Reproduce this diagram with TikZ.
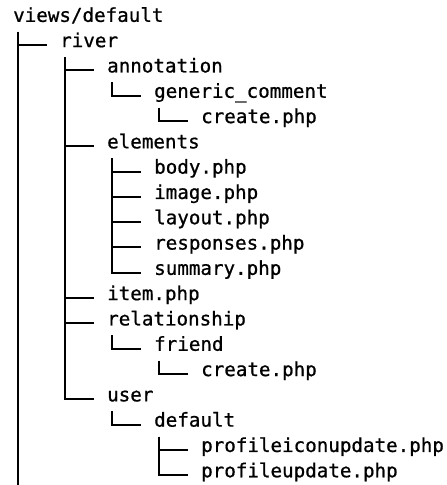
\documentclass[tikz,border=0pt]{standalone}
\usepackage{fontspec}
\newfontfamily\treefont[FakeBold=0.8]{DejaVu Sans Mono}
\usepackage{tikz}
\usetikzlibrary{positioning}
\tikzset{entry/.style = {anchor = mid west, inner xsep = 13, inner ysep = 0,
    font = \treefont\fontsize{19.2}{23}\selectfont},
  branch/.style = {line width = 2}}

\begin{document}
\begin{tikzpicture}[x = 1pt, y = 1pt]
      \useasboundingbox (0, 0) rectangle (447, -485);
      % rows are 25.3 apart, one level is 47 to the right
      \node [entry] (root)      at (0, -19.7)   {views/default};
      \node [entry] (river)     at (47, -45.0)  {river};
      \node [entry] (annot)     at (94, -70.3)  {annotation};
      \node [entry] (generic)   at (141, -95.6) {generic\_comment};
      \node [entry] (gcreate)   at (188, -120.9) {create.php};
      \node [entry] (elements)  at (94, -146.2) {elements};
      \node [entry] (body)      at (141, -171.5) {body.php};
      \node [entry] (image)     at (141, -196.8) {image.php};
      \node [entry] (layout)    at (141, -222.1) {layout.php};
      \node [entry] (responses) at (141, -247.4) {responses.php};
      \node [entry] (summary)   at (141, -272.7) {summary.php};
      \node [entry] (item)      at (94, -298.0) {item.php};
      \node [entry] (relation)  at (94, -323.3) {relationship};
      \node [entry] (friend)    at (141, -348.6) {friend};
      \node [entry] (fcreate)   at (188, -373.9) {create.php};
      \node [entry] (user)      at (94, -399.2) {user};
      \node [entry] (udefault)  at (141, -424.5) {default};
      \node [entry] (iconupd)   at (188, -449.8) {profileiconupdate.php};
      \node [entry] (profupd)   at (188, -475.1) {profileupdate.php};

      \coordinate (bottom) at (18, -485);
      \draw [branch] ([shift = {(18, -12)}]root.mid west) -- (bottom);

      \foreach \p/\c in {root/river, river/annot, annot/generic, generic/gcreate,
          river/elements, elements/body, elements/image, elements/layout,
          elements/responses, elements/summary, river/item, river/relation,
          relation/friend, friend/fcreate, river/user, user/udefault,
          udefault/iconupd, udefault/profupd} {
        \draw [branch] ([shift = {(18, -12)}]\p.mid west) |- (\c.mid west);
      }
    \end{tikzpicture}
\end{document}
